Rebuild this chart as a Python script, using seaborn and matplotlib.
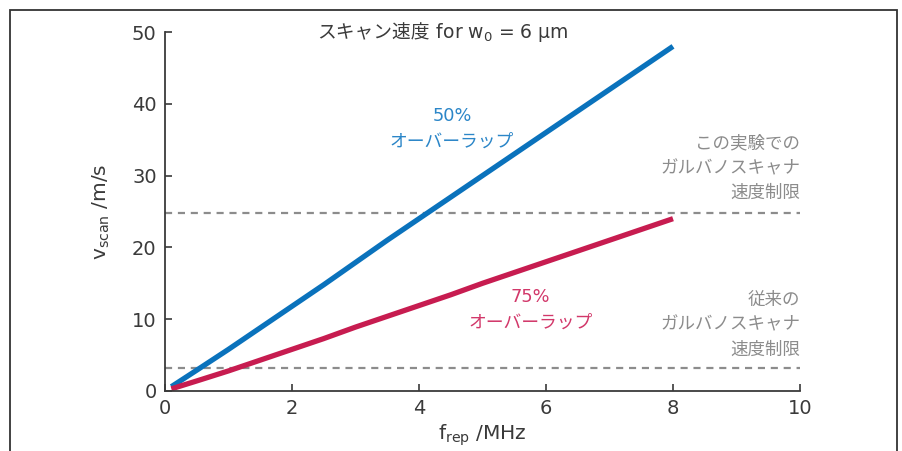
import matplotlib
matplotlib.use("Agg")
import matplotlib.pyplot as plt
from matplotlib.patches import Rectangle
import pandas as pd
import seaborn as sns

# repetition rate (MHz) and scan speed (m/s) for each overlap ratio
f_rep = [0.1, 0.5, 1.0, 1.5, 2.0, 2.5, 3.0, 3.5, 4.0, 4.5, 5.0, 5.5, 6.0, 6.5, 7.0, 7.5, 8.0]
v_50 = [0.6, 2.9, 5.8, 8.8, 11.8, 14.8, 17.9, 21.0, 24.0, 27.0, 30.0, 33.0, 36.0, 39.0, 42.0, 45.0, 48.0]
v_75 = [0.3, 1.4, 2.8, 4.3, 5.8, 7.3, 8.9, 10.4, 11.9, 13.4, 15.0, 16.5, 18.0, 19.5, 21.0, 22.5, 24.0]
series = ["50%", "75%"]

limit_galvo_this = 24.8   # galvo scanner limit in this experiment
limit_galvo_old = 3.25    # conventional galvo scanner limit

x_ticks = [0, 2, 4, 6, 8, 10]
y_ticks = [0, 10, 20, 30, 40, 50]

df = pd.DataFrame({
    "f": f_rep * 2,
    "v": v_50 + v_75,
    "overlap": [series[0]] * len(f_rep) + [series[1]] * len(f_rep),
})

sns.set_style("ticks")
mixed = ["DejaVu Sans", "Noto Sans CJK JP"]
plt.rcParams["font.family"] = mixed
plt.rcParams["mathtext.default"] = "regular"

blue = "#0a72bc"
red = "#c71c50"
gray = "#8c8c8c"
dark = "#3a3a3a"

fig = plt.figure(figsize=(9.02, 4.51), dpi=100)
ax = fig.add_axes([165 / 902, 1 - 391 / 451, (800 - 165) / 902, (391 - 32) / 451])

sns.lineplot(data=df, x="f", y="v", hue="overlap", palette={series[0]: blue, series[1]: red},
             linewidth=3.8, legend=False, ax=ax, solid_capstyle="butt")

for lim in (limit_galvo_this, limit_galvo_old):
    ax.axhline(lim, color=gray, linewidth=1.6, linestyle=(0, (3.2, 2.6)), zorder=1)

ax.set_xlim(0, 10)
ax.set_ylim(0, 50)
ax.set_xticks(x_ticks)
ax.set_yticks(y_ticks)
ax.tick_params(direction="in", length=5, width=1.2, colors=dark, labelsize=14, pad=6)
for lbl in ax.get_xticklabels() + ax.get_yticklabels():
    lbl.set_color(dark)
for s in ("top", "right"):
    ax.spines[s].set_visible(False)
for s in ("left", "bottom"):
    ax.spines[s].set_color(dark)
    ax.spines[s].set_linewidth(1.3)

ax.set_xlabel("$f_{rep}$ /MHz", fontsize=14.5, color=dark, labelpad=3)
ax.set_ylabel("$v_{scan}$ /m/s", fontsize=14.5, color=dark, labelpad=14)

# heading: Japanese part as plain text, the formula part right after it
head = ax.text(317 / 902, 1 - 33 / 451, "スキャン速度", transform=fig.transFigure,
               ha="left", va="center", fontsize=13.5, color=dark,
               family=["Noto Sans CJK JP", "DejaVu Sans"])
ax.annotate(" for w$_0$ = 6 µm", xy=(1, 0.5), xycoords=head, ha="left", va="center",
            fontsize=13.5, color=dark)

ax.text(4.52, 36.5, "50%\nオーバーラップ", ha="center", va="center", fontsize=12.8,
        color="#2b86c8", linespacing=1.55)
ax.text(5.75, 11.3, "75%\nオーバーラップ", ha="center", va="center", fontsize=12.8,
        color="#d2386a", linespacing=1.55)

ax.text(10, 26.3, "この実験での\nガルバノスキャナ\n速度制限", ha="right", va="bottom",
        fontsize=12.6, color=gray, linespacing=1.5)
ax.text(10, 4.5, "従来の\nガルバノスキャナ\n速度制限", ha="right", va="bottom",
        fontsize=12.6, color=gray, linespacing=1.5)

# outer frame of the figure panel
fig.patches.append(Rectangle((10 / 902, -0.05), (897 - 10) / 902, 1.05 - 10 / 451,
                             transform=fig.transFigure, fill=False, edgecolor="#333333",
                             linewidth=1.3, clip_on=False))

fig.savefig("out.png", dpi=100)
